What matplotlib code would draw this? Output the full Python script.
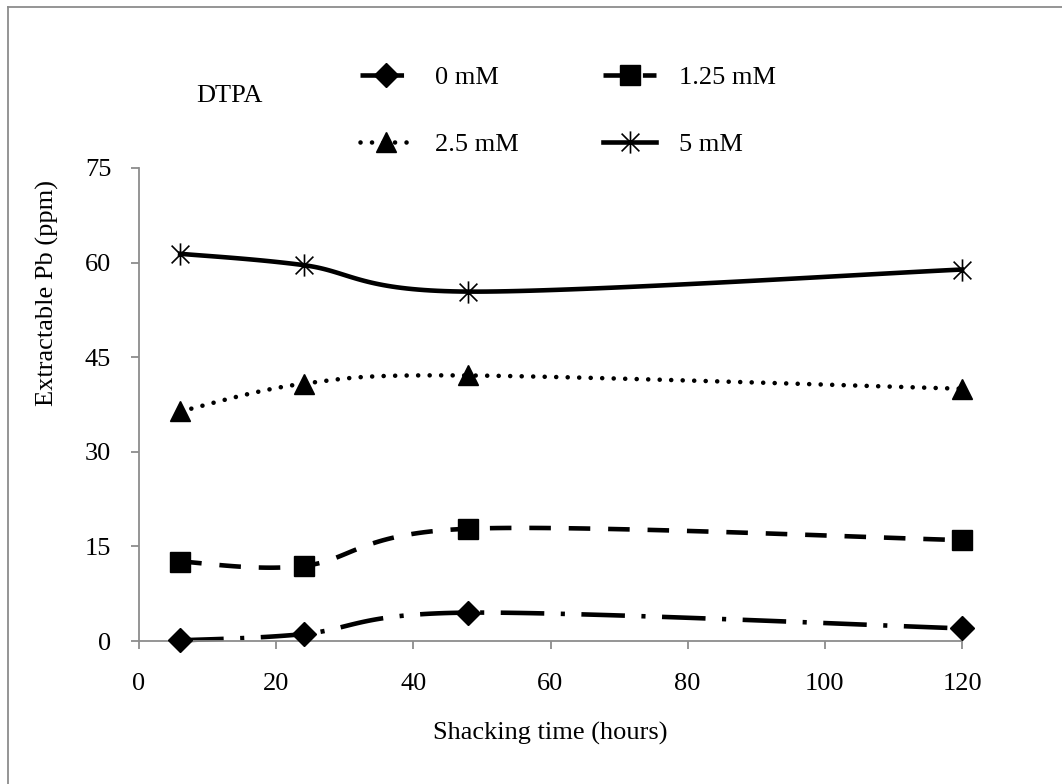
import numpy as np
import matplotlib
matplotlib.use("Agg")
import matplotlib.pyplot as plt
from matplotlib.path import Path
from matplotlib.lines import Line2D

plt.rcParams['font.family'] = ['Liberation Serif', 'DejaVu Serif']
plt.rcParams['font.size'] = 19

# data
hours = [6, 24, 48, 120]
pb_0 = [0.1, 1.1, 4.5, 2.0]
pb_125 = [12.6, 11.9, 17.8, 16.0]
pb_25 = [36.4, 40.8, 42.1, 40.0]
pb_5 = [61.4, 59.6, 55.4, 58.9]
series_labels = ['0 mM', '1.25 mM', '2.5 mM', '5 mM']

GRAY = '#8c8c8c'


def smooth(x, y, n=40):
    # excel style bezier smoothing through the points
    p = np.column_stack([x, y]).astype(float)
    p = np.vstack([p[0], p, p[-1]])
    xs, ys = [], []
    t = np.linspace(0, 1, n)
    for i in range(1, len(p) - 2):
        p0, p1, p2, p3 = p[i - 1], p[i], p[i + 1], p[i + 2]
        c1 = p1 + (p2 - p0) / 6
        c2 = p2 - (p3 - p1) / 6
        b = ((1 - t) ** 3)[:, None] * p1 + (3 * (1 - t) ** 2 * t)[:, None] * c1 \
            + (3 * (1 - t) * t ** 2)[:, None] * c2 + (t ** 3)[:, None] * p2
        xs.extend(b[:, 0])
        ys.extend(b[:, 1])
    return xs, ys


# asterisk marker like excel's star
star = Path([(0, -1), (0, 1), (-0.8, -0.8), (0.8, 0.8), (-0.8, 0.8), (0.8, -0.8)],
            [Path.MOVETO, Path.LINETO, Path.MOVETO, Path.LINETO, Path.MOVETO, Path.LINETO])

DOTS = (0, (0.01, 2.5))
styles = [
    dict(marker='D', ms=12, ls=(0, (9.5, 3.6, 0.9, 3.6))),
    dict(marker='s', ms=14, ls=(0, (4.7, 3.9))),
    dict(marker='^', ms=15, ls=DOTS),
    dict(marker=star, ms=16, ls='-'),
]

fig = plt.figure(figsize=(10.62, 7.84), dpi=100)
ax = fig.add_axes([139 / 1062, 1 - 641 / 784, (962 - 139) / 1062, (641 - 168) / 784])

handles = []
for vals, lab, st in zip([pb_0, pb_125, pb_25, pb_5], series_labels, styles):
    sx, sy = smooth(hours, vals)
    cap = 'round' if st['ls'] == DOTS else 'butt'
    ax.plot(sx, sy, color='black', lw=3.3, ls=st['ls'], dash_capstyle=cap, clip_on=False)
    mew = 1.2 if st['marker'] is star else 1
    ax.plot(hours, vals, ls='none', marker=st['marker'], ms=st['ms'], color='black',
            mec='black', mew=mew, clip_on=False, zorder=3)
    handles.append(Line2D([], [], color='black', lw=3.3, ls=st['ls'], marker=st['marker'],
                          ms=st['ms'], mew=mew, dash_capstyle=cap))

ax.set_xlim(0, 120)
ax.set_ylim(0, 75)
ax.set_xticks(range(0, 121, 20))
ax.set_yticks(range(0, 76, 15))
for s in ['top', 'right']:
    ax.spines[s].set_visible(False)
for s in ['left', 'bottom']:
    ax.spines[s].set_color(GRAY)
    ax.spines[s].set_linewidth(1.3)
ax.tick_params(direction='out', length=6, width=1.3, color=GRAY, labelsize=19)
ax.tick_params(axis='x', pad=17)
ax.tick_params(axis='y', pad=14)

fig.text(550 / 1062, 1 - 733 / 784, 'Shacking time (hours)', ha='center', va='center')
fig.text(47 / 1062, 1 - 293 / 784, 'Extractable Pb (ppm)', ha='center', va='center', rotation=90)
fig.text(229 / 1062, 1 - 96 / 784, 'DTPA', ha='center', va='center')

leg = fig.legend([handles[0], handles[2], handles[1], handles[3]],
                 [series_labels[0], series_labels[2], series_labels[1], series_labels[3]],
                 ncol=2, loc='upper left', bbox_to_anchor=(360 / 1062, 1 - 66 / 784),
                 frameon=False, numpoints=1, handlelength=2.0, handletextpad=0.85,
                 columnspacing=3.2, labelspacing=1.65, borderpad=0, borderaxespad=0,
                 fontsize=19)

# chart border (left and top edges visible)
fig.add_artist(Line2D([8 / 1062, 8 / 1062], [0, 1 - 7 / 784], color=GRAY, lw=1.3))
fig.add_artist(Line2D([8 / 1062, 1], [1 - 7 / 784, 1 - 7 / 784], color=GRAY, lw=1.3))

fig.savefig('out.png', dpi=100)
